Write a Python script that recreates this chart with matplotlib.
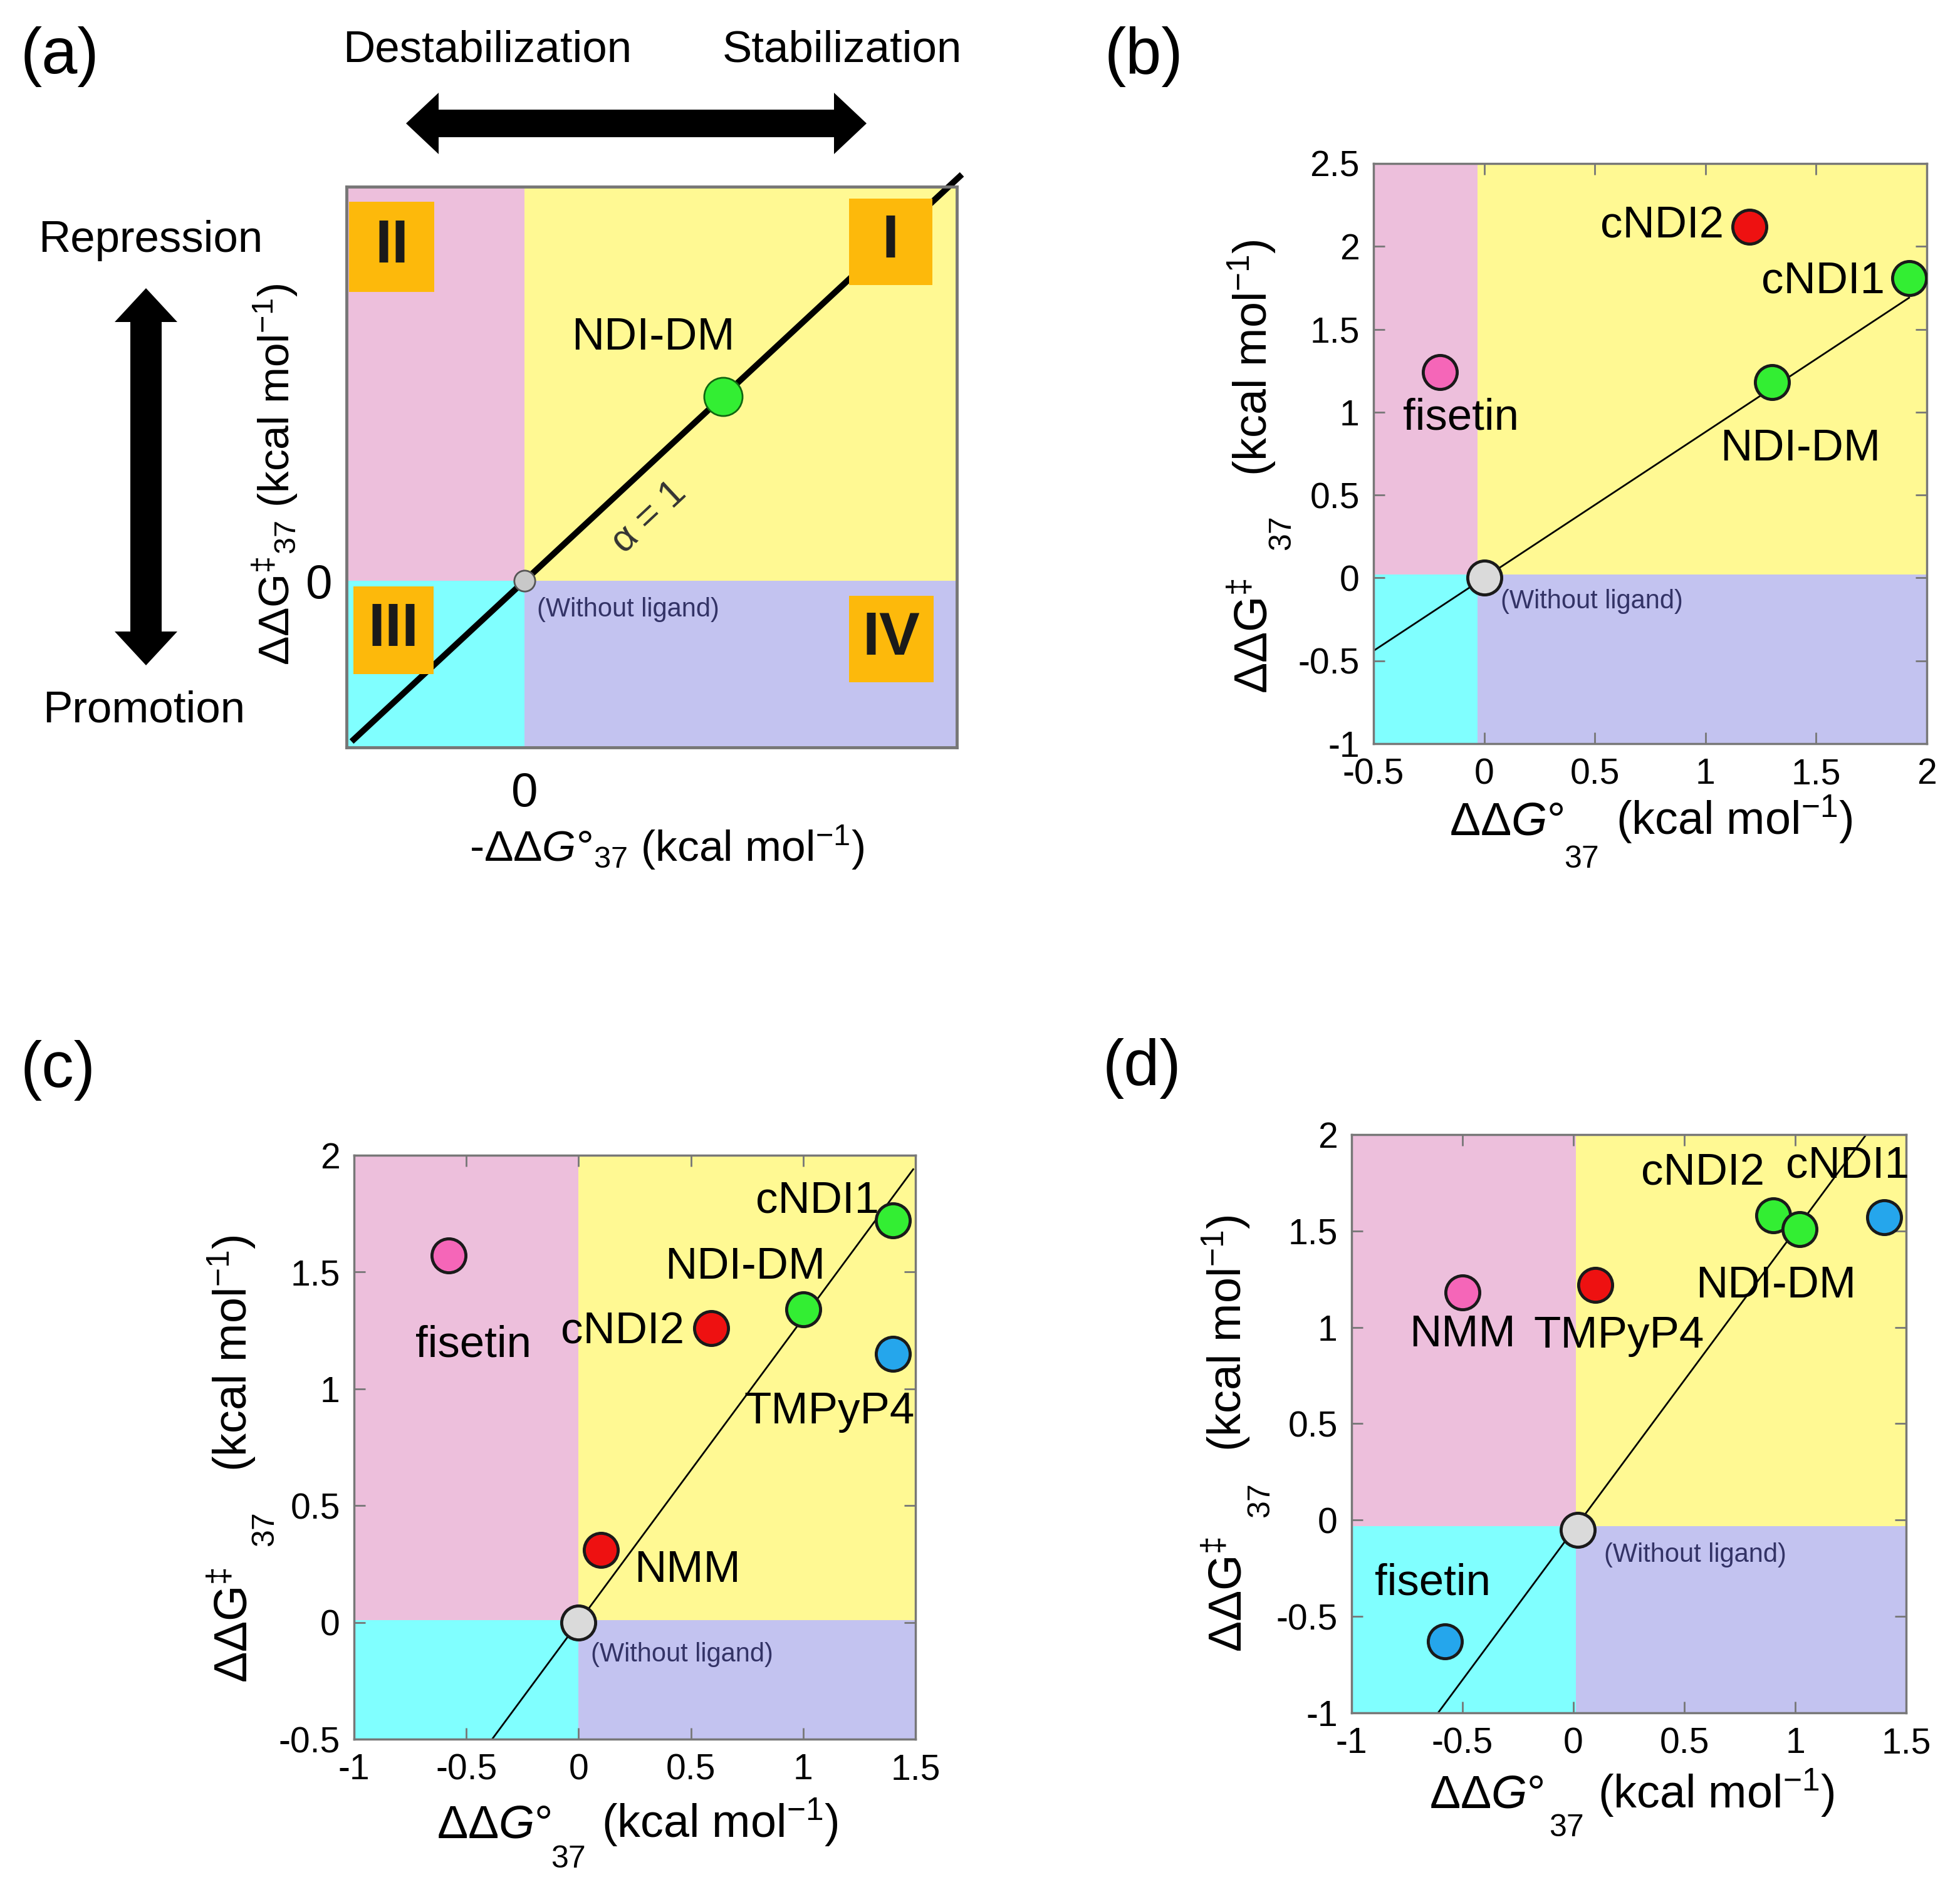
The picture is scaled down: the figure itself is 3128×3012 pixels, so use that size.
import matplotlib
matplotlib.use("Agg")
import matplotlib.pyplot as plt
from matplotlib.patches import Rectangle, FancyArrow

plt.rcParams.update({
    "font.family": ["Liberation Sans", "DejaVu Sans"],
    "mathtext.fontset": "custom",
    "mathtext.rm": "Liberation Sans",
    "mathtext.it": "Liberation Sans:italic",
    "mathtext.bf": "Liberation Sans:bold",
    "axes.unicode_minus": False,
})

W, H = 3128, 3012

PINK = "#EDBFDC"
YELLOW = "#FFF993"
CYAN = "#80FFFF"
LAVENDER = "#C3C3F0"
GREEN = "#33EE33"
RED = "#EE1111"
MAGENTA = "#F566B8"
BLUE = "#25A6EC"
GREY = "#DADADA"
ORANGE = "#FDB90B"
FRAME = "#777777"

# ---- data -------------------------------------------------------------------
# (a) schematic
a_x = [0.78, 0.0]
a_y = [0.78, 0.0]
a_line_x = [-0.68, 1.72]
a_line_y = [-0.68, 1.72]

# (b)
b_names = ["fisetin", "cNDI2", "cNDI1", "NDI-DM", "(Without ligand)"]
b_x = [-0.2, 1.2, 1.92, 1.3, 0.0]
b_y = [1.24, 2.12, 1.81, 1.18, 0.0]
b_fit_x = [-0.5, 1.92]
b_fit_y = [-0.44, 1.69]

# (c)
c_names = ["fisetin", "cNDI2", "NDI-DM", "cNDI1", "TMPyP4", "NMM", "(Without ligand)"]
c_x = [-0.58, 0.59, 1.0, 1.4, 1.4, 0.1, 0.0]
c_y = [1.57, 1.26, 1.34, 1.72, 1.15, 0.31, 0.0]
c_fit_x = [-0.385, 1.49]
c_fit_y = [-0.5, 1.94]

# (d)
d_names = ["NMM", "TMPyP4", "cNDI2", "NDI-DM", "cNDI1", "fisetin", "(Without ligand)"]
d_x = [-0.5, 0.1, 0.9, 1.02, 1.4, -0.58, 0.02]
d_y = [1.18, 1.22, 1.58, 1.51, 1.57, -0.63, -0.05]
d_fit_x = [-0.61, 1.32]
d_fit_y = [-1.0, 2.0]

# ---- styles ----------------------------------------------------------------
b_colors = [MAGENTA, RED, GREEN, GREEN, GREY]
c_colors = [MAGENTA, RED, GREEN, GREEN, BLUE, RED, GREY]
d_colors = [MAGENTA, RED, GREEN, GREEN, BLUE, BLUE, GREY]

# label offsets in points (dx, dy, ha)
b_offsets = [(24, -53, "center"), (-30, 0, "right"), (-28, -4, "right"),
             (33, -77, "center"), (19, -27, "left")]
c_offsets = [(29, -103, "center"), (-31, -5, "right"), (-67, 48, "center"),
             (-16, 22, "right"), (-73, -67, "center"), (38, -24, "left"),
             (14, -37, "left")]
d_offsets = [(0, -49, "center"), (27, -59, "center"), (-81, 48, "center"),
             (-27, -66, "center"), (-42, 59, "center"), (-14, 67, "center"),
             (30, -29, "left")]


def px_axes(fig, x0, y0, x1, y1):
    return fig.add_axes([x0 / W, 1 - y1 / H, (x1 - x0) / W, (y1 - y0) / H])


def quadrants(ax, xlim, ylim, x0, y0):
    ax.set_xlim(xlim)
    ax.set_ylim(ylim)
    ax.add_patch(Rectangle((xlim[0], y0), x0 - xlim[0], ylim[1] - y0, color=PINK, lw=0, zorder=0))
    ax.add_patch(Rectangle((x0, y0), xlim[1] - x0, ylim[1] - y0, color=YELLOW, lw=0, zorder=0))
    ax.add_patch(Rectangle((xlim[0], ylim[0]), x0 - xlim[0], y0 - ylim[0], color=CYAN, lw=0, zorder=0))
    ax.add_patch(Rectangle((x0, ylim[0]), xlim[1] - x0, y0 - ylim[0], color=LAVENDER, lw=0, zorder=0))


def data_panel(ax, names, xs, ys, colors, offsets, fit_x, fit_y, xlim, ylim, split):
    quadrants(ax, xlim, ylim, *split)
    ax.plot(fit_x, fit_y, color="black", lw=2, zorder=2)
    for name, x, y, col, (dx, dy, ha) in zip(names, xs, ys, colors, offsets):
        ax.plot(x, y, "o", ms=39, mfc=col, mec="#1a1a1a", mew=3.5, zorder=4)
        small = name.startswith("(")
        ax.annotate(name, (x, y), xytext=(dx, dy), textcoords="offset points",
                    ha=ha, va="center", fontsize=30 if small else 51,
                    color="#333366" if small else "black", zorder=3)
    for s in ax.spines.values():
        s.set_color(FRAME)
        s.set_linewidth(2.5)
    ax.tick_params(direction="in", length=13, width=2, color=FRAME, top=True,
                   right=True, labelsize=41, pad=16)
    ax.xaxis.set_major_formatter(plt.FormatStrFormatter("%g"))
    ax.yaxis.set_major_formatter(plt.FormatStrFormatter("%g"))


fig = plt.figure(figsize=(W / 100, H / 100), dpi=100)

# ---- (a) ---------------------------------------------------------------------
axa = px_axes(fig, 553, 298, 1527, 1193)
quadrants(axa, (-0.7, 1.7), (-0.705, 1.668), 0, 0)
axa.plot(a_line_x, a_line_y, color="black", lw=7, zorder=2, clip_on=False,
         solid_capstyle="butt")
axa.plot(a_x[0], a_y[0], "o", ms=44, mfc=GREEN, mec="#116611", mew=2, zorder=4)
axa.plot(a_x[1], a_y[1], "o", ms=24, mfc="#C8C8C8", mec="#555555", mew=2, zorder=4)
axa.annotate("NDI-DM", (a_x[0], a_y[0]), xytext=(-80, 67), textcoords="offset points",
             ha="center", va="center", fontsize=52)
axa.annotate("(Without ligand)", (a_x[1], a_y[1]), xytext=(14, -33),
             textcoords="offset points", ha="left", va="center", fontsize=30,
             color="#333366")
axa.text(0.49, 0.268, "α = 1", rotation=43, ha="center", va="center", fontsize=44,
         color="#333333", rotation_mode="anchor")
roman = [("II", 0.004, 0.812, 0.140, 0.161), ("I", 0.823, 0.825, 0.137, 0.154),
         ("III", 0.011, 0.131, 0.132, 0.156), ("IV", 0.823, 0.116, 0.139, 0.154)]
for txt, rx, ry, rw, rh in roman:
    axa.add_patch(Rectangle((rx, ry), rw, rh, transform=axa.transAxes, color=ORANGE,
                            lw=0, zorder=5))
    axa.text(rx + rw / 2, ry + rh / 2, txt, transform=axa.transAxes, ha="center",
             va="center", fontsize=70, fontweight="bold", color="#1a1a1a", zorder=6)
axa.set_xticks([0])
axa.set_yticks([0])
axa.tick_params(length=0, labelsize=55)
axa.tick_params(axis="x", pad=28)
axa.tick_params(axis="y", pad=16)
for s in axa.spines.values():
    s.set_color(FRAME)
    s.set_linewidth(3.5)

# ---- (b) ---------------------------------------------------------------------
axb = px_axes(fig, 2192, 261, 3075, 1187)
data_panel(axb, b_names, b_x, b_y, b_colors, b_offsets, b_fit_x, b_fit_y,
           (-0.5, 2.0), (-1.0, 2.5), (-0.03, 0.02))
axb.set_xticks([-0.5, 0, 0.5, 1, 1.5, 2])
axb.set_yticks([-1, -0.5, 0, 0.5, 1, 1.5, 2, 2.5])

# ---- (c) ---------------------------------------------------------------------
axc = px_axes(fig, 565, 1844, 1461, 2776)
data_panel(axc, c_names, c_x, c_y, c_colors, c_offsets, c_fit_x, c_fit_y,
           (-1.0, 1.5), (-0.5, 2.0), (0.0, 0.01))
axc.set_xticks([-1, -0.5, 0, 0.5, 1, 1.5])
axc.set_yticks([-0.5, 0, 0.5, 1, 1.5, 2])

# ---- (d) ---------------------------------------------------------------------
axd = px_axes(fig, 2157, 1811, 3042, 2734)
data_panel(axd, d_names, d_x, d_y, d_colors, d_offsets, d_fit_x, d_fit_y,
           (-1.0, 1.5), (-1.0, 2.0), (0.01, -0.03))
axd.set_xticks([-1, -0.5, 0, 0.5, 1, 1.5])
axd.set_yticks([-1, -0.5, 0, 0.5, 1, 1.5, 2])

# ---- overlay in pixel coordinates: arrows, panel letters, axis labels ---------
ov = fig.add_axes([0, 0, 1, 1], zorder=10)
ov.set_xlim(0, W)
ov.set_ylim(H, 0)
ov.axis("off")

for dx in (-367, 368):
    ov.add_patch(FancyArrow(1015, 197, dx, 0, width=44, head_width=98, head_length=52,
                            length_includes_head=True, color="black", lw=0))
for dy in (-301, 301):
    ov.add_patch(FancyArrow(233, 761, 0, dy, width=50, head_width=100, head_length=54,
                            length_includes_head=True, color="black", lw=0))

ov.text(778, 80, "Destabilization", ha="center", va="center", fontsize=51)
ov.text(1344, 80, "Stabilization", ha="center", va="center", fontsize=51)
ov.text(240, 384, "Repression", ha="center", va="center", fontsize=51)
ov.text(230, 1134, "Promotion", ha="center", va="center", fontsize=51)

for letter, x, y in [("(a)", 95, 90), ("(b)", 1825, 90), ("(c)", 93, 1708), ("(d)", 1822, 1705)]:
    ov.text(x, y, letter, ha="center", va="center", fontsize=74)

# (a) axis labels
ov.text(1064, 1375, r"-ΔΔ$\it{G}$°$_{37}$ (kcal mol$^{-1}$)", ha="center",
        va="baseline", fontsize=50)
ov.text(462, 757, r"ΔΔG$^{\ddag}$$_{37}$ (kcal mol$^{-1}$)", ha="center", va="baseline",
        rotation=90, rotation_mode="anchor", fontsize=50)

# (b)-(d) axis labels, with the 37 set apart as in the original
LAB = 53
SUB = 36
labels = [
    dict(gx=2404, gy=1332, sx=2524, sy=1385, px=2579,
         ykx=2022, kyc=571, s7x=2059, s7y=850, gyc=1015),
    dict(gx=788, gy=2933, sx=907, sy=2981, px=960,
         ykx=394, kyc=2160, s7x=436, s7y=2440, gyc=2594),
    dict(gx=2372, gy=2886, sx=2500, sy=2931, px=2550,
         ykx=1981, kyc=2128, s7x=2025, s7y=2394, gyc=2545),
]
for L in labels:
    ov.text(L["gx"], L["gy"], r"ΔΔ$\it{G}$°", ha="center", va="baseline", fontsize=LAB)
    ov.text(L["sx"], L["sy"], "37", ha="center", va="baseline", fontsize=SUB)
    ov.text(L["px"], L["gy"], r"(kcal mol$^{-1}$)", ha="left", va="baseline", fontsize=LAB)
    ov.text(L["ykx"], L["kyc"], r"(kcal mol$^{-1}$)", ha="center", va="baseline",
            rotation=90, rotation_mode="anchor", fontsize=LAB)
    ov.text(L["s7x"], L["s7y"], "37", ha="center", va="baseline", rotation=90,
            rotation_mode="anchor", fontsize=SUB)
    ov.text(L["ykx"], L["gyc"], r"ΔΔG$^{\ddag}$", ha="center", va="baseline", rotation=90,
            rotation_mode="anchor", fontsize=LAB)

fig.savefig("out.png", dpi=100, facecolor="white")
